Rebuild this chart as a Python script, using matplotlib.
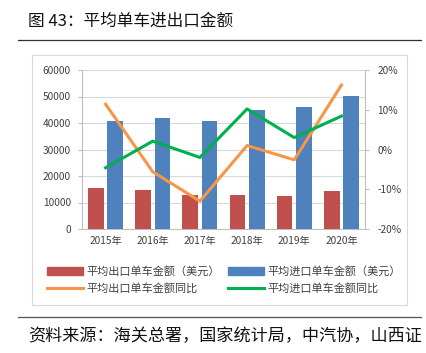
import matplotlib
matplotlib.use("Agg")
import matplotlib.pyplot as plt
import numpy as np
from matplotlib.patches import Rectangle
from matplotlib.lines import Line2D

plt.rcParams['font.family'] = ['Noto Sans CJK SC', 'DejaVu Sans']

years = ['2015年', '2016年', '2017年', '2018年', '2019年', '2020年']
export_usd = [15600, 14700, 12800, 12700, 12300, 14450]
import_usd = [40800, 41700, 40800, 44900, 46000, 50200]
export_yoy = [11.4, -5.6, -13.0, 1.0, -2.6, 16.2]
import_yoy = [-4.6, 2.1, -2.0, 10.2, 3.0, 8.4]

left_ticks = [0, 10000, 20000, 30000, 40000, 50000, 60000]
right_ticks = [-20, -10, 0, 10, 20]

W, H = 426, 353
fig = plt.figure(figsize=(W / 100, H / 100), dpi=100)

def fx(px): return px / W
def fy(py): return 1 - py / H

# title and rules
fig.text(fx(28), fy(21), '图 43：平均单车进出口金额', fontsize=12, va='center', ha='left', color='#111111')
fig.add_artist(Line2D([fx(18), fx(421)], [fy(40), fy(40)], color='#333333', lw=0.9))
fig.add_artist(Line2D([fx(18), fx(421)], [fy(317), fy(317)], color='#555555', lw=0.9))
fig.text(fx(28), fy(336), '资料来源：海关总署，国家统计局，中汽协，山西证', fontsize=12.3, va='center', ha='left', color='#111111')

# chart box
fig.add_artist(Rectangle((fx(32), fy(305)), fx(407) - fx(32), fy(55) - fy(305),
                         fill=False, ec='#d9d9d9', lw=0.8))

ax = fig.add_axes([fx(82), fy(229), fx(365) - fx(82), fy(70) - fy(229)])
x = np.arange(len(years))
bw = 0.33
ax.bar(x - 0.04 - bw / 2, export_usd, bw, color='#c0504d', zorder=3)
ax.bar(x + 0.04 + bw / 2, import_usd, bw, color='#4f81bd', zorder=3)
ax.set_ylim(0, 60000)
ax.set_xlim(-0.5, len(years) - 0.5)
ax.set_yticks(left_ticks)
ax.set_yticklabels([str(t) for t in left_ticks])
ax.set_xticks(x)
ax.set_xticklabels(years)
ax.grid(axis='y', color='#d9d9d9', lw=0.8, zorder=0)
for s in ['top', 'right']:
    ax.spines[s].set_visible(False)
ax.spines['left'].set_color('#bfbfbf')
ax.spines['bottom'].set_color('#bfbfbf')
ax.tick_params(axis='both', labelsize=7.3, colors='#404040', length=0, pad=5)
ax.tick_params(axis='y', length=3, color='#bfbfbf', direction='out')

ax2 = ax.twinx()
ax2.plot(x, export_yoy, color='#f79646', lw=2.2, zorder=4)
ax2.plot(x, import_yoy, color='#00b050', lw=2.2, zorder=4)
ax2.set_ylim(-20, 20)
ax2.set_yticks(right_ticks)
ax2.set_yticklabels([f'{t}%' for t in right_ticks])
for s in ['top', 'left', 'bottom']:
    ax2.spines[s].set_visible(False)
ax2.spines['right'].set_color('#bfbfbf')
ax2.tick_params(axis='y', labelsize=7.3, colors='#404040', length=3, color='#bfbfbf', pad=6)

h_red = Rectangle((0, 0), 1, 1, color='#c0504d')
h_blue = Rectangle((0, 0), 1, 1, color='#4f81bd')
h_orange = Line2D([], [], color='#f79646', lw=2.2)
h_green = Line2D([], [], color='#00b050', lw=2.2)
handles = [h_red, h_orange, h_blue, h_green]
labels = ['平均出口单车金额（美元）', '平均出口单车金额同比', '平均进口单车金额（美元）', '平均进口单车金额同比']
fig.legend(handles, labels, ncol=2, loc='center', bbox_to_anchor=(fx(224), fy(280)),
           frameon=False, fontsize=8, handlelength=3.2, handleheight=0.6,
           columnspacing=0.8, handletextpad=0.3, labelspacing=0.55, labelcolor='#404040')

fig.savefig('out.png', dpi=100)
